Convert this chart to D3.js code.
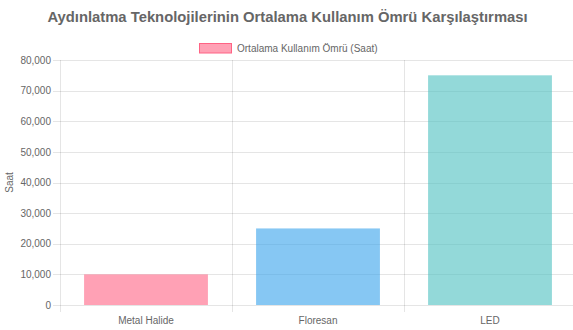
<!DOCTYPE html>
<html>
<head>
<meta charset="utf-8">
<script src="https://cdn.jsdelivr.net/npm/d3@7/dist/d3.min.js"></script>
<style>
  body { margin: 0; background: #fff; }
  text { font-family: "Liberation Sans", Arial, Helvetica, sans-serif; }
</style>
</head>
<body>
<div id="chart"></div>
<script>
const categories = ["Metal Halide", "Floresan", "LED"];
const lifetimes = [10000, 25000, 75000];
const yTicks = [0, 10000, 20000, 30000, 40000, 50000, 60000, 70000, 80000];
const seriesName = "Ortalama Kullanım Ömrü (Saat)";
const fills = ["rgba(255,99,132,0.6)", "rgba(54,162,235,0.6)", "rgba(75,192,192,0.6)"];

const W = 573, H = 330;
const margin = {top: 60, right: -3, bottom: 25, left: 60};
const width = W - margin.left - margin.right;
const height = H - margin.top - margin.bottom;
const font = '"Liberation Sans", Arial, sans-serif';

const svg = d3.select("#chart").append("svg")
  .attr("width", W).attr("height", H);

// title
svg.append("text")
  .attr("x", W / 2 + 1).attr("y", 22)
  .attr("text-anchor", "middle")
  .attr("font-size", 14.8).attr("font-weight", "bold")
  .attr("fill", "#666")
  .text("Aydınlatma Teknolojilerinin Ortalama Kullanım Ömrü Karşılaştırması");

// legend
const lg = svg.append("g").attr("transform", "translate(199,43)");
lg.append("rect").attr("x", 0.5).attr("y", 0.5).attr("width", 32).attr("height", 9.5)
  .attr("fill", fills[0]).attr("stroke", "rgb(255,99,132)").attr("stroke-width", 1);
lg.append("text").attr("x", 38).attr("y", 9)
  .attr("font-size", 10).attr("fill", "#666").text(seriesName);

const g = svg.append("g").attr("transform", `translate(${margin.left},${margin.top})`);

const x = d3.scaleBand().domain(categories).range([0, width]);
const y = d3.scaleLinear().domain([0, 80000]).range([height, 0]);

// horizontal grid
g.append("g")
  .selectAll("line").data(yTicks).join("line")
  .attr("x1", -7).attr("x2", width)
  .attr("y1", d => Math.round(y(d)) + 0.5).attr("y2", d => Math.round(y(d)) + 0.5)
  .attr("stroke", "rgba(0,0,0,0.1)");

// vertical grid at category boundaries
g.append("g")
  .selectAll("line").data(categories.map((c, i) => i)).join("line")
  .attr("x1", i => Math.round(x.step() * i) + 0.5).attr("x2", i => Math.round(x.step() * i) + 0.5)
  .attr("y1", 0).attr("y2", height + 7)
  .attr("stroke", "rgba(0,0,0,0.1)");

// y axis labels
const yAxis = g.append("g")
  .call(d3.axisLeft(y).tickValues(yTicks).tickFormat(d3.format(",")).tickSize(0).tickPadding(9));
yAxis.select(".domain").remove();
yAxis.selectAll("text").attr("font-size", 10).attr("fill", "#666").style("font-family", font);

// x axis labels
const xAxis = g.append("g").attr("transform", `translate(0,${height})`)
  .call(d3.axisBottom(x).tickSize(0).tickPadding(12));
xAxis.select(".domain").remove();
xAxis.selectAll("text").attr("font-size", 10).attr("fill", "#666").style("font-family", font);

// bars
const barW = x.bandwidth() * 0.72;
g.selectAll(".bar").data(lifetimes).join("rect")
  .attr("class", "bar")
  .attr("x", (d, i) => x(categories[i]) + (x.bandwidth() - barW) / 2)
  .attr("y", d => y(d))
  .attr("width", barW)
  .attr("height", d => height - y(d))
  .attr("fill", (d, i) => fills[i]);

// y title
svg.append("text")
  .attr("transform", `translate(13,${margin.top + height / 2}) rotate(-90)`)
  .attr("text-anchor", "middle")
  .attr("font-size", 10).attr("fill", "#666")
  .text("Saat");
</script>
</body>
</html>
